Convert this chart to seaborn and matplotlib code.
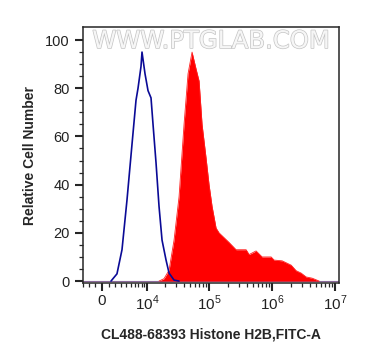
import numpy as np
import pandas as pd
import seaborn as sns
import matplotlib.pyplot as plt
import matplotlib.patheffects as pe

# Control (blue outline) histogram, fluorescence intensity vs relative count
ctrl_x = [1340, 2300, 3190, 4180, 5330, 6350, 6920, 7830, 8160, 9210, 10370,
          11650, 12590, 14120, 15810, 17700, 20560, 23000, 27650, 33250]
ctrl_y = [0, 3, 13, 33.6, 57, 75, 80, 89, 95, 86, 79, 76, 65, 49, 31, 17, 8.7, 3.3, 0.4, 0]

# Stained sample (red filled) histogram
stain_x = [15810, 19070, 23000, 27650, 33250, 39940, 46240, 53580, 62040, 69290, 77280,
           89500, 99760, 111400, 129000, 143800, 172800, 207400, 268000, 386400, 430800,
           556000, 693400, 963000, 1074000, 1439000, 2000000, 2400000, 2884000, 3460000,
           4308000, 5564000]
stain_y = [0, 1, 4.5, 17, 35, 65, 86, 95, 88, 83, 65, 51, 40, 31, 22, 20, 18, 16, 13, 13,
           11, 12.5, 10, 10, 8.7, 8.4, 6.6, 4.3, 3.3, 1.7, 1.2, 0]

x_ticks = [0, 1e4, 1e5, 1e6, 1e7]
x_labels = ['0', '10$^4$', '10$^5$', '10$^6$', '10$^7$']

ctrl = pd.DataFrame({'x': ctrl_x, 'y': ctrl_y})
stain = pd.DataFrame({'x': stain_x, 'y': stain_y})

sns.set_style('ticks')
plt.rcParams['font.family'] = ['Liberation Sans', 'DejaVu Sans']
plt.rcParams['mathtext.fontset'] = 'custom'
plt.rcParams['mathtext.rm'] = 'Liberation Sans'

C = 2000.0


def fwd(v):
    return np.arcsinh(np.asarray(v) / (2 * C)) / np.log(10)


def inv(v):
    return 2 * C * np.sinh(np.asarray(v) * np.log(10))


fig = plt.figure(figsize=(3.66, 3.63), dpi=100)
ax = fig.add_axes([0.2268, 0.2204, 0.6995, 0.7052])
ax.set_xscale('function', functions=(fwd, inv))

ax.axhline(0, color='#8a6a9a', lw=0.8, zorder=1)
ax.fill_between(stain['x'], stain['y'], 0, color='#ff0000', lw=0, zorder=2)
sns.lineplot(data=stain, x='x', y='y', color='#ff2020', lw=0.6, ax=ax, sort=False, zorder=2)
sns.lineplot(data=ctrl, x='x', y='y', color='#0a0a96', lw=1.2, ax=ax, sort=False, zorder=3)

ax.set_xlim(-3000, 1.15e7)
ax.set_ylim(-0.8, 105.4)

ax.set_xticks(x_ticks)
ax.set_xticklabels(x_labels)
minor = [-3000, -2000, -1000, 1000] + [k * 1000 for k in range(2, 10)]
for d in [1e4, 1e5, 1e6]:
    minor += [k * d for k in range(2, 10)]
ax.set_xticks(minor, minor=True)
ax.set_yticks([0, 20, 40, 60, 80, 100])
ax.set_yticks(np.arange(0, 105, 5), minor=True)

ax.tick_params(axis='both', which='major', length=6, width=1.5, labelsize=10.5,
               labelcolor='#222222', direction='out')
ax.tick_params(axis='x', which='major', pad=2, labelsize=11)
ax.tick_params(axis='both', which='minor', length=3, width=0.9, direction='out')
for s in ax.spines.values():
    s.set_linewidth(1.1)

ax.set_xlabel('CL488-68393 Histone H2B,FITC-A', fontsize=10, fontweight='bold', labelpad=10)
ax.set_ylabel('Relative Cell Number', fontsize=10, fontweight='bold', labelpad=6)

ax.text(0.5, 0.945, 'WWW.PTGLAB.COM', transform=ax.transAxes, ha='center', va='center',
        fontsize=17.5, color='#f6f6f6', family='DejaVu Sans',
        path_effects=[pe.withStroke(linewidth=1.0, foreground='#c4c4c4')])

plt.savefig('out.png', dpi=100)
